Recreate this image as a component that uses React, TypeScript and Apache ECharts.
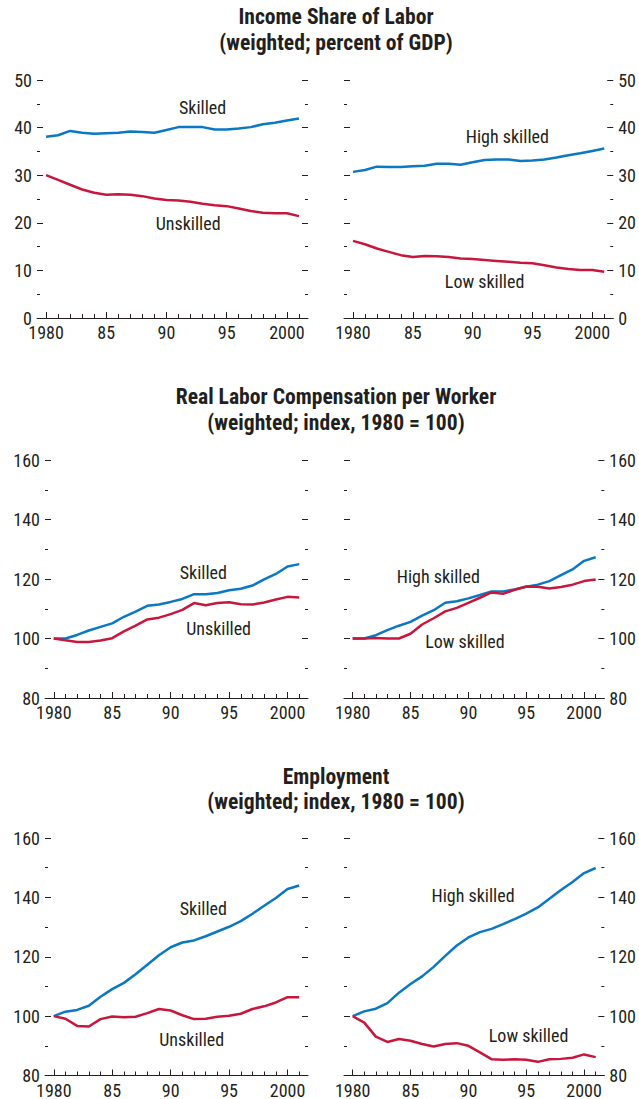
import React, { useEffect, useRef } from 'react';
import * as echarts from 'echarts';

const years = [1980, 1981, 1982, 1983, 1984, 1985, 1986, 1987, 1988, 1989, 1990, 1991, 1992, 1993, 1994, 1995, 1996, 1997, 1998, 1999, 2000, 2001];
const majorYears = [1980, 1985, 1990, 1995, 2000];

const titles = [
  ['Income Share of Labor', '(weighted; percent of GDP)'],
  ['Real Labor Compensation per Worker', '(weighted; index, 1980 = 100)'],
  ['Employment', '(weighted; index, 1980 = 100)'],
];

const shareSkilled = [38.1, 38.4, 39.3, 38.9, 38.7, 38.8, 38.9, 39.2, 39.1, 38.9, 39.5, 40.1, 40.1, 40.1, 39.6, 39.6, 39.8, 40.1, 40.7, 41.0, 41.5, 41.9];
const shareUnskilled = [30.0, 29.0, 28.0, 27.0, 26.3, 25.9, 26.0, 25.9, 25.6, 25.1, 24.8, 24.7, 24.4, 24.0, 23.7, 23.5, 23.0, 22.5, 22.1, 22.0, 22.0, 21.4];
const shareHigh = [30.7, 31.1, 31.8, 31.7, 31.7, 31.9, 32.0, 32.4, 32.4, 32.2, 32.7, 33.2, 33.3, 33.3, 33.0, 33.1, 33.3, 33.7, 34.2, 34.6, 35.1, 35.6];
const shareLow = [16.2, 15.5, 14.6, 13.9, 13.2, 12.8, 13.0, 12.95, 12.8, 12.5, 12.4, 12.2, 12.0, 11.8, 11.6, 11.5, 11.1, 10.6, 10.3, 10.1, 10.1, 9.7];

const compSkilled = [100, 100, 101.2, 102.7, 103.9, 105.1, 107.3, 109.0, 111.0, 111.4, 112.3, 113.3, 114.9, 114.9, 115.3, 116.2, 116.7, 117.8, 119.9, 121.7, 124.2, 125.0];
const compUnskilled = [100, 99.4, 98.85, 98.85, 99.3, 100.1, 102.4, 104.3, 106.4, 107.0, 108.2, 109.6, 111.9, 111.2, 111.9, 112.2, 111.5, 111.4, 112.1, 113.1, 114.0, 113.8];
const compHigh = [100, 100, 101.1, 102.8, 104.3, 105.6, 107.7, 109.5, 112.0, 112.5, 113.5, 114.6, 115.8, 115.8, 116.5, 117.4, 118.1, 119.3, 121.3, 123.2, 126.1, 127.3];
const compLow = [100, 100, 100.2, 100, 100, 101.6, 104.7, 106.8, 109.1, 110.3, 112.0, 113.7, 115.5, 115.0, 116.4, 117.5, 117.4, 116.8, 117.3, 118.1, 119.3, 119.8];

const empSkilled = [100, 101.5, 102.1, 103.5, 106.5, 109.1, 111.2, 114.1, 117.3, 120.5, 123.2, 124.8, 125.5, 126.9, 128.5, 130.1, 132.0, 134.5, 137.2, 139.8, 142.8, 144.0];
const empUnskilled = [100, 99.1, 96.7, 96.5, 99.0, 99.9, 99.6, 99.8, 101.0, 102.4, 101.9, 100.3, 99.0, 99.1, 99.8, 100.1, 100.8, 102.4, 103.3, 104.6, 106.4, 106.4];
const empHigh = [100, 101.6, 102.5, 104.4, 107.9, 110.8, 113.4, 116.6, 120.3, 123.8, 126.5, 128.3, 129.4, 131.0, 132.7, 134.5, 136.6, 139.5, 142.5, 145.2, 148.2, 149.9];
const empLow = [100, 97.8, 93.1, 91.3, 92.3, 91.7, 90.6, 89.8, 90.6, 90.9, 90.0, 87.8, 85.5, 85.3, 85.5, 85.3, 84.6, 85.5, 85.6, 86.0, 87.1, 86.2];

// label anchor positions in data space [year, value]
const labelPos = {
  shareSkilled: [1993.0, 44.3], shareUnskilled: [1991.8, 19.9],
  shareHigh: [1992.9, 38.1], shareLow: [1991.0, 7.6],
  compSkilled: [1992.8, 122.1], compUnskilled: [1994.1, 103.3],
  compHigh: [1987.4, 120.9], compLow: [1989.7, 99.1],
  empSkilled: [1992.8, 136.4], empUnskilled: [1991.8, 92.2],
  empHigh: [1990.4, 140.5], empLow: [1995.2, 93.5],
};

const FONT = "'Roboto Condensed', 'Liberation Sans', Arial, sans-serif";
const INK = '#231f20';
const BLUE = '#0a78c2';
const RED = '#c8173c';

const X_MIN = 1979.25;
const X_MAX = 2001.75;

type Panel = {
  grid: { left: number; top: number; width: number; height: number };
  yMin: number; yMax: number; yInt: number;
  labelsLeft: boolean;
  lines: { name: string; data: number[]; color: string; pos: number[] }[];
};

const panels: Panel[] = [
  { grid: { left: 37, top: 80, width: 271, height: 238 }, yMin: 0, yMax: 50, yInt: 10, labelsLeft: true,
    lines: [
      { name: 'Skilled', data: shareSkilled, color: BLUE, pos: labelPos.shareSkilled },
      { name: 'Unskilled', data: shareUnskilled, color: RED, pos: labelPos.shareUnskilled },
    ] },
  { grid: { left: 344, top: 80, width: 271, height: 238 }, yMin: 0, yMax: 50, yInt: 10, labelsLeft: false,
    lines: [
      { name: 'High skilled', data: shareHigh, color: BLUE, pos: labelPos.shareHigh },
      { name: 'Low skilled', data: shareLow, color: RED, pos: labelPos.shareLow },
    ] },
  { grid: { left: 45, top: 460, width: 263, height: 238 }, yMin: 80, yMax: 160, yInt: 20, labelsLeft: true,
    lines: [
      { name: 'Skilled', data: compSkilled, color: BLUE, pos: labelPos.compSkilled },
      { name: 'Unskilled', data: compUnskilled, color: RED, pos: labelPos.compUnskilled },
    ] },
  { grid: { left: 344, top: 460, width: 264, height: 238 }, yMin: 80, yMax: 160, yInt: 20, labelsLeft: false,
    lines: [
      { name: 'High skilled', data: compHigh, color: BLUE, pos: labelPos.compHigh },
      { name: 'Low skilled', data: compLow, color: RED, pos: labelPos.compLow },
    ] },
  { grid: { left: 45, top: 838, width: 263, height: 238 }, yMin: 80, yMax: 160, yInt: 20, labelsLeft: true,
    lines: [
      { name: 'Skilled', data: empSkilled, color: BLUE, pos: labelPos.empSkilled },
      { name: 'Unskilled', data: empUnskilled, color: RED, pos: labelPos.empUnskilled },
    ] },
  { grid: { left: 344, top: 838, width: 263, height: 238 }, yMin: 80, yMax: 160, yInt: 20, labelsLeft: false,
    lines: [
      { name: 'High skilled', data: empHigh, color: BLUE, pos: labelPos.empHigh },
      { name: 'Low skilled', data: empLow, color: RED, pos: labelPos.empLow },
    ] },
];

const titleY = [[16, 42], [396, 422], [776, 801]];

function buildOption() {
  const grid: any[] = [];
  const xAxis: any[] = [];
  const yAxis: any[] = [];
  const series: any[] = [];

  panels.forEach((p, i) => {
    grid.push({ ...p.grid, containLabel: false });
    xAxis.push({
      type: 'value', gridIndex: i, min: X_MIN, max: X_MAX, position: 'bottom',
      axisLine: { show: true, lineStyle: { color: INK, width: 1 } },
      axisTick: { show: true, inside: true, length: 6, customValues: majorYears, lineStyle: { color: INK, width: 1 } },
      axisLabel: {
        show: true, customValues: majorYears, margin: 8, lineHeight: 13, color: INK, fontFamily: FONT, fontSize: 18,
        formatter: (v: number) => (v === 1980 || v === 2000 ? String(v) : String(v).slice(2)),
      },
      splitLine: { show: false },
    });
    xAxis.push({
      type: 'value', gridIndex: i, min: X_MIN, max: X_MAX, position: 'bottom',
      axisLine: { show: false },
      axisTick: { show: true, inside: true, length: 4, customValues: years, lineStyle: { color: INK, width: 1 } },
      axisLabel: { show: false },
      splitLine: { show: false },
    });
    const yCommon = {
      type: 'value', gridIndex: i, min: p.yMin, max: p.yMax, interval: p.yInt,
      axisLine: { show: false },
      axisTick: { show: true, inside: true, length: 6, lineStyle: { color: INK, width: 1 } },
      minorTick: { show: true, splitNumber: 2, length: 3, lineStyle: { color: INK, width: 1 } },
      splitLine: { show: false },
      minorSplitLine: { show: false },
    };
    yAxis.push({
      ...yCommon, position: 'left',
      axisLabel: { show: p.labelsLeft, margin: 5, lineHeight: 13, color: INK, fontFamily: FONT, fontSize: 18 },
    });
    yAxis.push({
      ...yCommon, position: 'right',
      axisLabel: { show: !p.labelsLeft, margin: 5, lineHeight: 13, color: INK, fontFamily: FONT, fontSize: 18 },
    });
    p.lines.forEach((ln) => {
      series.push({
        type: 'line', xAxisIndex: 2 * i, yAxisIndex: 2 * i,
        data: years.map((yr, k) => [yr, ln.data[k]]),
        showSymbol: false, symbol: 'none',
        lineStyle: { color: ln.color, width: 2.5 },
        itemStyle: { color: ln.color },
        z: 3,
        markPoint: {
          symbol: 'circle', symbolSize: 1, itemStyle: { color: 'rgba(0,0,0,0)' },
          label: { show: true, position: 'inside', formatter: '{b}', color: INK, fontFamily: FONT, fontSize: 18 },
          data: [{ name: ln.name, coord: ln.pos }],
        },
      });
    });
  });

  const graphic: any[] = [];
  titles.forEach((t, i) => {
    t.forEach((line, j) => {
      graphic.push({
        type: 'text', x: 336, y: titleY[i][j],
        style: {
          text: line, fill: INK, font: `bold 21.6px ${FONT}`,
          textAlign: 'center', textVerticalAlign: 'middle',
        },
      });
    });
  });

  return { animation: false, backgroundColor: '#ffffff', grid, xAxis, yAxis, series, graphic };
}

export default function App() {
  const ref = useRef<HTMLDivElement>(null);
  useEffect(() => {
    document.body.style.margin = '0';
    if (!ref.current) return;
    const chart = echarts.init(ref.current, undefined, { renderer: 'svg' });
    chart.setOption(buildOption() as any);
    return () => chart.dispose();
  }, []);
  return <div ref={ref} style={{ width: 639, height: 1099 }} />;
}
